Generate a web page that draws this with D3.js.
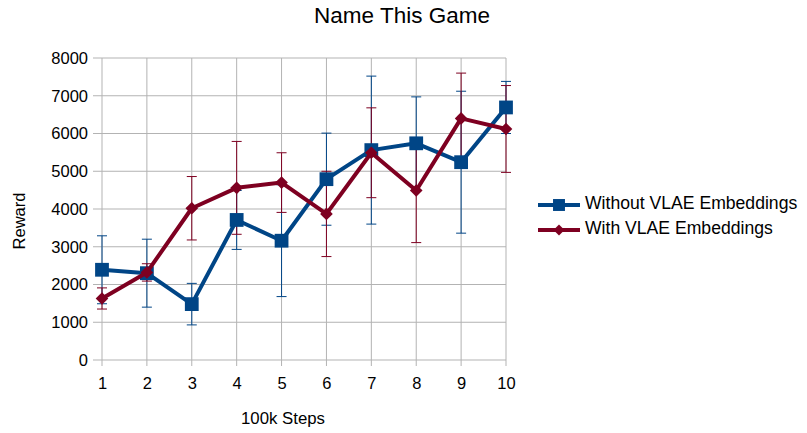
<!DOCTYPE html>
<html>
<head>
<meta charset="utf-8">
<script src="https://cdn.jsdelivr.net/npm/d3@7"></script>
<style>
  body { margin: 0; background: #fff; }
  svg { font-family: "Liberation Sans", Arial, sans-serif; }
</style>
</head>
<body>
<div id="chart"></div>
<script>
// chart data
const steps = [1, 2, 3, 4, 5, 6, 7, 8, 9, 10];
const withoutVals = [2390, 2300, 1480, 3710, 3160, 4790, 5560, 5740, 5240, 6690];
const withoutErr  = [900, 900, 550, 780, 1480, 1220, 1960, 1230, 1880, 690];
const withVals = [1630, 2320, 4020, 4560, 4700, 3870, 5490, 4490, 6400, 6120];
const withErr  = [280, 230, 840, 1230, 790, 1130, 1190, 1380, 1200, 1150];
const yTicks = [0, 1000, 2000, 3000, 4000, 5000, 6000, 7000, 8000];
const seriesNames = ["Without VLAE Embeddings", "With VLAE Embeddings"];

const W = 807, H = 433;
const margin = { top: 58, right: 301, bottom: 73, left: 102 };
const iw = W - margin.left - margin.right;
const ih = H - margin.top - margin.bottom;

const svg = d3.select("#chart")
    .append("svg")
    .attr("width", W)
    .attr("height", H);

const g = svg.append("g").attr("transform", `translate(${margin.left},${margin.top})`);

const x = d3.scalePoint().domain(steps).range([0, iw]);
const y = d3.scaleLinear().domain([0, 8000]).range([ih, 0]);

// grid (lines stick out a bit past the axes like tick marks)
g.selectAll(".hgrid").data(yTicks).join("line")
    .attr("x1", -9).attr("x2", iw)
    .attr("y1", d => y(d)).attr("y2", d => y(d))
    .attr("stroke", "#b3b3b3").attr("stroke-width", 1);
g.selectAll(".vgrid").data(steps).join("line")
    .attr("x1", d => x(d)).attr("x2", d => x(d))
    .attr("y1", 0).attr("y2", ih + 6)
    .attr("stroke", "#b3b3b3").attr("stroke-width", 1);

// axes labels
g.append("g")
    .attr("transform", `translate(0,${ih})`)
    .call(d3.axisBottom(x).tickSize(0).tickPadding(17))
    .call(a => a.select(".domain").remove())
    .selectAll("text").attr("font-size", 16.5).attr("fill", "#000")
    .attr("font-family", "Liberation Sans, Arial, sans-serif");

g.append("g")
    .call(d3.axisLeft(y).tickValues(yTicks).tickFormat(d3.format("d")).tickSize(0).tickPadding(14))
    .call(a => a.select(".domain").remove())
    .selectAll("text").attr("font-size", 16.5).attr("fill", "#000")
    .attr("font-family", "Liberation Sans, Arial, sans-serif");

const series = [
    { name: seriesNames[0], vals: withoutVals, err: withoutErr, color: "#004586", shape: d3.symbolSquare, size: 190, rot: 0 },
    { name: seriesNames[1], vals: withVals, err: withErr, color: "#7e0021", shape: d3.symbolSquare, size: 80, rot: 45 }
];

const line = d3.line().x((d, i) => x(steps[i])).y(d => y(d));

series.forEach(s => {
    const eg = g.append("g");
    s.vals.forEach((v, i) => {
        const cx = x(steps[i]);
        eg.append("line")
            .attr("x1", cx).attr("x2", cx)
            .attr("y1", y(v - s.err[i])).attr("y2", y(v + s.err[i]))
            .attr("stroke", s.color).attr("stroke-width", 1);
        [v - s.err[i], v + s.err[i]].forEach(e => {
            eg.append("line")
                .attr("x1", cx - 5).attr("x2", cx + 5)
                .attr("y1", y(e)).attr("y2", y(e))
                .attr("stroke", s.color).attr("stroke-width", 1);
        });
    });
});

series.forEach(s => {
    g.append("path")
        .datum(s.vals)
        .attr("d", line)
        .attr("fill", "none")
        .attr("stroke", s.color)
        .attr("stroke-width", 4)
        .attr("stroke-linejoin", "round");
    g.selectAll(null).data(s.vals).join("path")
        .attr("transform", (d, i) => `translate(${x(steps[i])},${y(d)}) rotate(${s.rot})`)
        .attr("d", d3.symbol().type(s.shape).size(s.size))
        .attr("fill", s.color);
});

// title
svg.append("text")
    .attr("x", 402).attr("y", 23)
    .attr("text-anchor", "middle")
    .attr("font-size", 22.5)
    .text("Name This Game");

svg.append("text")
    .attr("transform", "translate(25,221) rotate(-90)")
    .attr("text-anchor", "middle")
    .attr("font-size", 16.5)
    .text("Reward");

svg.append("text")
    .attr("x", 283).attr("y", 424)
    .attr("text-anchor", "middle")
    .attr("font-size", 16.8)
    .text("100k Steps");

// legend
const legend = svg.append("g").attr("transform", "translate(538,205)");
series.forEach((s, i) => {
    const lg = legend.append("g").attr("transform", `translate(0,${i * 25})`);
    lg.append("line").attr("x1", 0).attr("x2", 42).attr("y1", 0).attr("y2", 0)
        .attr("stroke", s.color).attr("stroke-width", 4);
    lg.append("path").attr("transform", `translate(21,0) rotate(${s.rot})`)
        .attr("d", d3.symbol().type(s.shape).size(s.size * 0.75))
        .attr("fill", s.color);
    lg.append("text").attr("x", 47).attr("y", 4)
        .attr("font-size", 17.6)
        .text(s.name);
});
</script>
</body>
</html>
